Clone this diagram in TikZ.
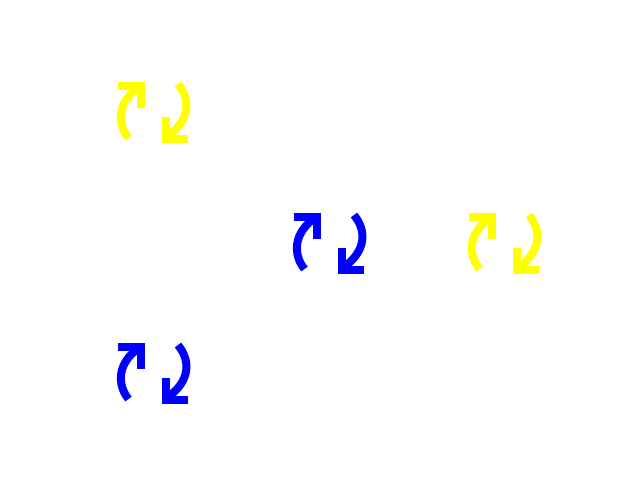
\documentclass[tikz,border=0pt]{standalone}
\usepackage{tikz}
\usetikzlibrary{calc}

\definecolor{swapyellow}{RGB}{255,255,0}
\definecolor{swapblue}{RGB}{0,0,255}

\tikzset{
  swapline/.style={line width=8pt,line join=miter},
  swaphead/.style={line width=8pt,line join=miter}
}

\begin{document}
\begin{tikzpicture}[x=1pt,y=-1pt]
  \useasboundingbox (0,0) rectangle (640,480);

  %% Drawing the pairs of turning arrows
  \foreach \x/\y/\shade in {0/0/swapyellow,176/131/swapblue,351/131/swapyellow,0/261/swapblue}
  {
    \begin{scope}[shift={(\x,\y)}]
      \draw[swapline,\shade] (128.5,138) .. controls (117,124) and (117,102) .. (139,87);
      \draw[swaphead,\shade] (118,86) -- (141,86) -- (141,108);
      \draw[swapline,\shade] (178,84) .. controls (191,100) and (190,120) .. (168,136);
      \draw[swaphead,\shade] (166,117) -- (166,139) -- (188,139);
    \end{scope}
  }
\end{tikzpicture}
\end{document}
